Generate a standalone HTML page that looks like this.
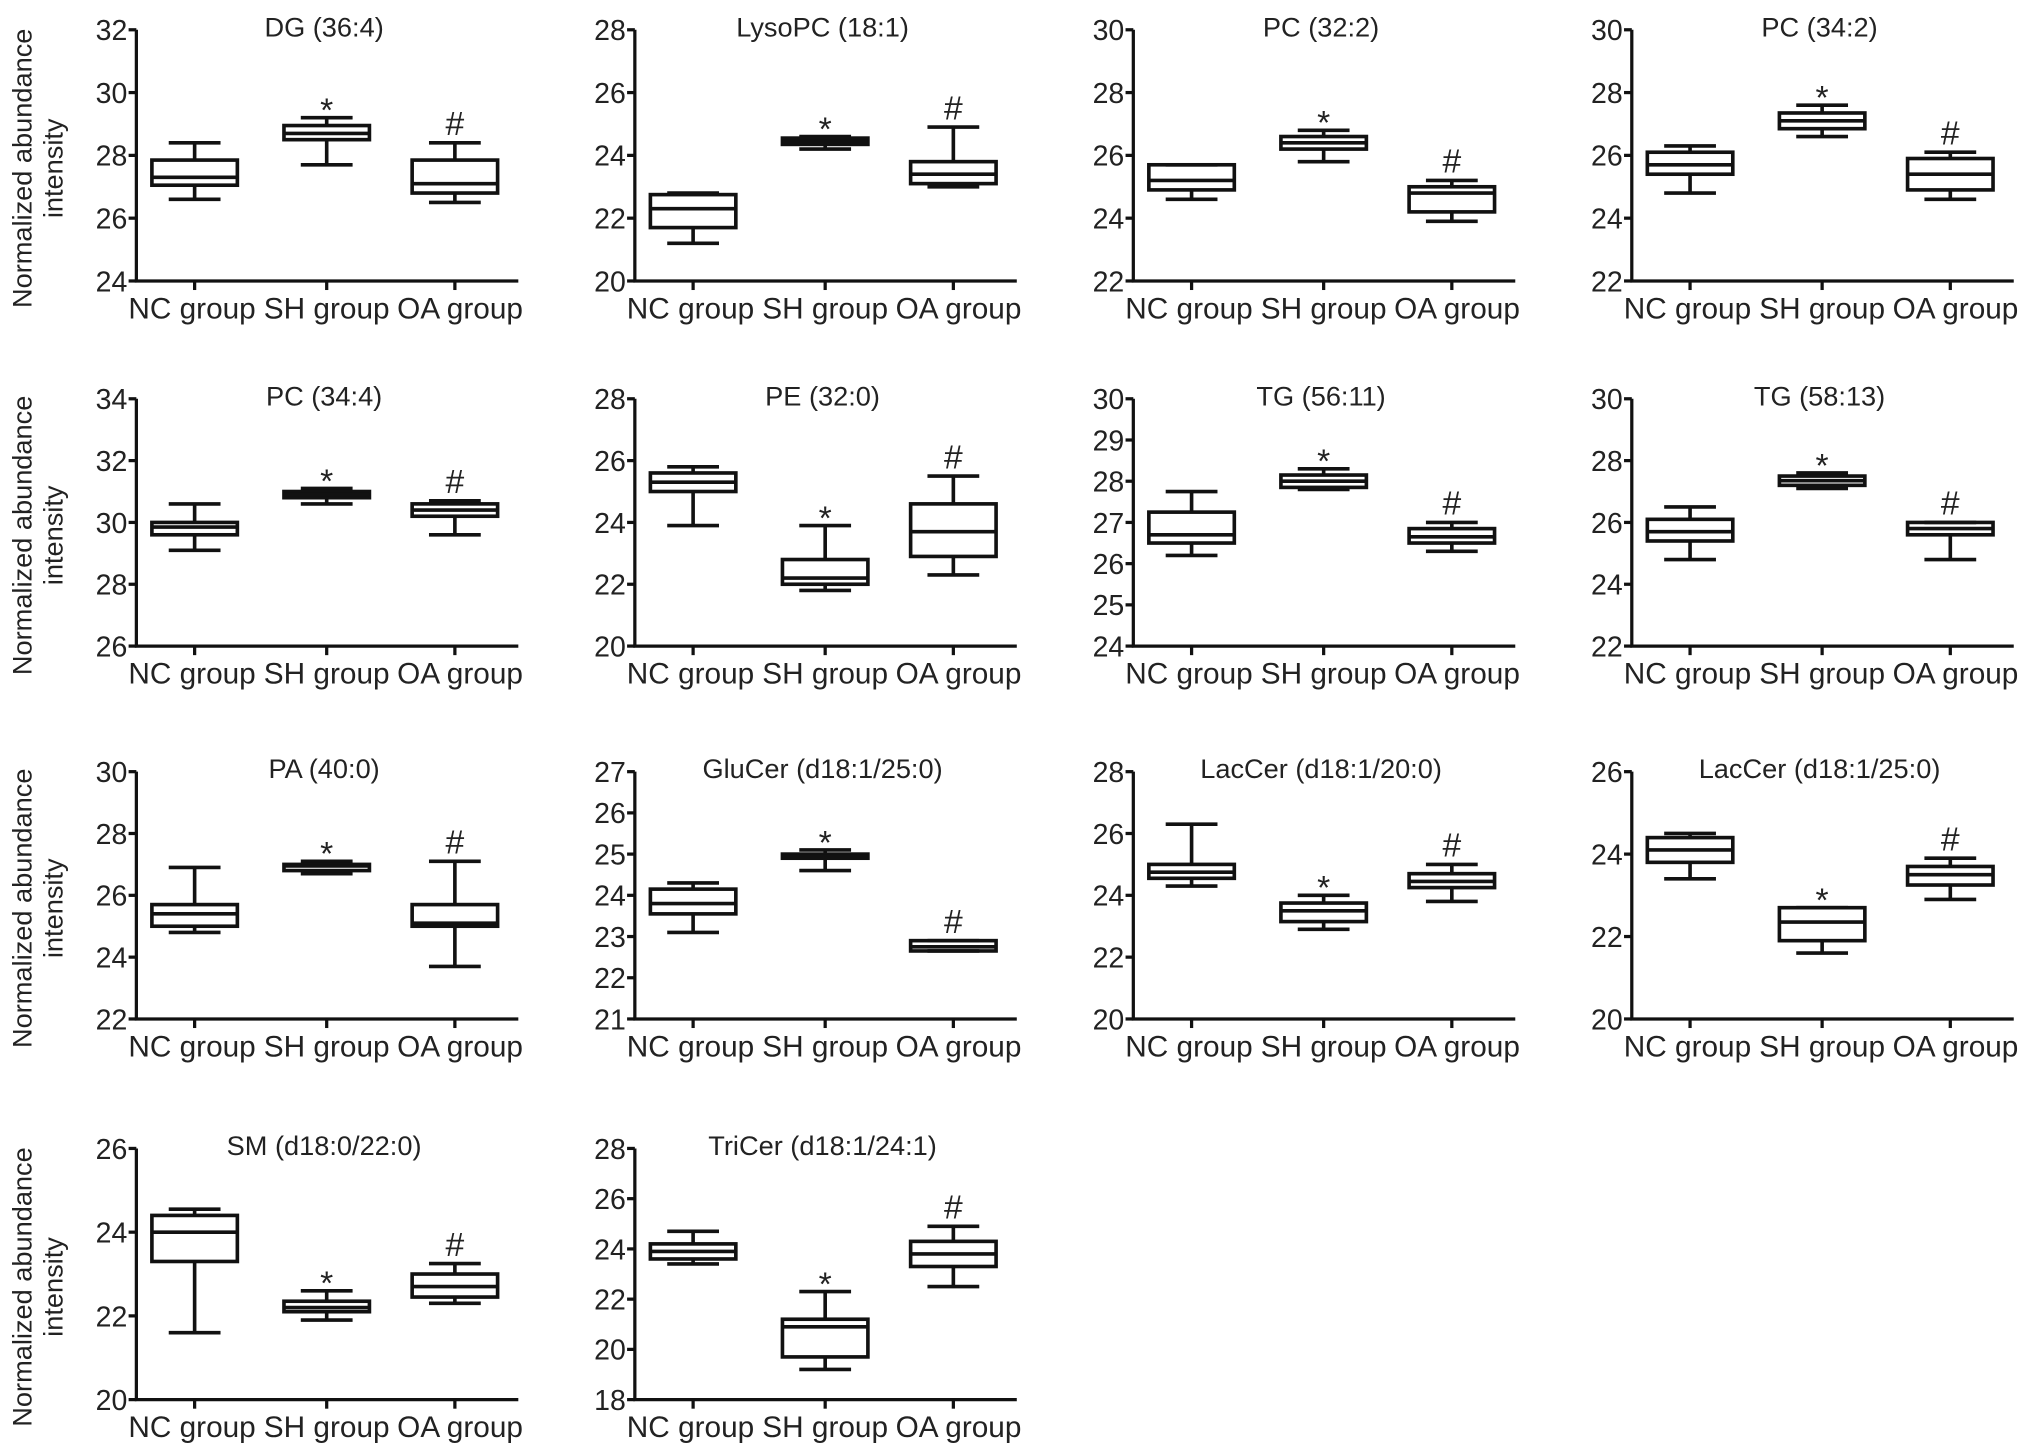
<!DOCTYPE html>
<html><head><meta charset="utf-8"><style>
html,body{margin:0;padding:0;background:#fff;}
svg{display:block;font-family:"Liberation Sans",Arial,sans-serif;}
</style></head><body>
<svg id="fig" width="2031" height="1454" viewBox="0 0 1568 1123" xmlns="http://www.w3.org/2000/svg"></svg>
<script>
const titles = ["DG (36:4)","LysoPC (18:1)","PC (32:2)","PC (34:2)","PC (34:4)","PE (32:0)","TG (56:11)","TG (58:13)","PA (40:0)","GluCer (d18:1/25:0)","LacCer (d18:1/20:0)","LacCer (d18:1/25:0)","SM (d18:0/22:0)","TriCer (d18:1/24:1)"];
const yMin = [24,20,22,22,26,20,24,22,22,21,20,20,20,18];
const yMax = [32,28,30,30,34,28,30,30,30,27,28,26,26,28];
const yStep = [2,2,2,2,2,2,1,2,2,1,2,2,2,2];
const groups = ["NC group","SH group","OA group"];
// each panel: [min, q1, median, q3, max] per group
const stats = [
 [[26.6,27.05,27.3,27.85,28.4],[27.7,28.5,28.7,28.95,29.2],[26.5,26.8,27.1,27.85,28.4]],
 [[21.2,21.7,22.3,22.75,22.8],[24.2,24.35,24.45,24.55,24.6],[23.0,23.1,23.4,23.8,24.9]],
 [[24.6,24.9,25.2,25.7,25.7],[25.8,26.2,26.4,26.6,26.8],[23.9,24.2,24.8,25.0,25.2]],
 [[24.8,25.4,25.7,26.1,26.3],[26.6,26.85,27.1,27.35,27.6],[24.6,24.9,25.4,25.9,26.1]],
 [[29.1,29.6,29.85,30.0,30.6],[30.6,30.8,30.9,31.0,31.1],[29.6,30.2,30.4,30.6,30.7]],
 [[23.9,25.0,25.3,25.6,25.8],[21.8,22.0,22.2,22.8,23.9],[22.3,22.9,23.7,24.6,25.5]],
 [[26.2,26.5,26.7,27.25,27.75],[27.8,27.85,28.0,28.15,28.3],[26.3,26.5,26.65,26.85,27.0]],
 [[24.8,25.4,25.7,26.1,26.5],[27.1,27.2,27.35,27.5,27.6],[24.8,25.6,25.8,26.0,26.0]],
 [[24.8,25.0,25.4,25.7,26.9],[26.7,26.8,26.95,27.0,27.1],[23.7,25.0,25.1,25.7,27.1]],
 [[23.1,23.55,23.8,24.15,24.3],[24.6,24.9,24.95,25.0,25.1],[22.65,22.65,22.75,22.9,22.9]],
 [[24.3,24.55,24.75,25.0,26.3],[22.9,23.15,23.5,23.75,24.0],[23.8,24.25,24.45,24.7,25.0]],
 [[23.4,23.8,24.1,24.4,24.5],[21.6,21.9,22.35,22.7,22.7],[22.9,23.25,23.5,23.7,23.9]],
 [[21.6,23.3,24.0,24.4,24.55],[21.9,22.1,22.2,22.35,22.6],[22.3,22.45,22.7,23.0,23.25]],
 [[23.4,23.6,23.9,24.2,24.7],[19.2,19.7,20.9,21.2,22.3],[22.5,23.3,23.8,24.3,24.9]]
];
const marks = ["","*","#"];

const NS="http://www.w3.org/2000/svg";
const svg=document.getElementById('fig');
function mk(tag,attrs,parent){const e=document.createElementNS(NS,tag);for(const k in attrs)e.setAttribute(k,attrs[k]);(parent||svg).appendChild(e);return e;}
const colX=[105,490,875,1260];
const rowTop=[23,308,596,887], rowBot=[217,499,787,1081];
const offs=[45,147,246];

titles.forEach((t,p)=>{
  const c=p%4,r=Math.floor(p/4);
  const ax=colX[c],top=rowTop[r],bot=rowBot[r];
  const g=mk('g',{});
  
  
  const y=v=>bot-(v-yMin[p])/(yMax[p]-yMin[p])*(bot-top);
  const x=i=>ax+offs[i];
  if(c===0){
    const yl=mk('text',{x:0,y:0,'font-size':21,'text-anchor':'middle',transform:`translate(24,${(top+bot)/2+10}) rotate(-90)`,fill:'#222'},g);
    
    
    yl.textContent='Normalized abundance';
    const yl2=mk('text',{x:0,y:0,'font-size':21,'text-anchor':'middle',transform:`translate(48,${(top+bot)/2+10}) rotate(-90)`,fill:'#222'},g);
    
    
    yl2.textContent='intensity';
  }
  const tt=mk('text',{x:ax+145,y:top+5,'font-size':21,'text-anchor':'middle',fill:'#222'},g);
  
  
  tt.textContent=t;
  const yaxis=mk('path',{d:`M${ax} ${top}V${bot}H${ax+295}`,stroke:'#111','stroke-width':2.5,fill:'none'},g);
  
  
  for(let v=yMin[p];v<=yMax[p]+1e-9;v+=yStep[p]){
    mk('line',{x1:ax-6,x2:ax,y1:y(v),y2:y(v),stroke:'#111','stroke-width':2.5},g);
    const tl=mk('text',{x:ax-7,y:y(v)+8,'font-size':22,'text-anchor':'end',fill:'#222'},g);
    
    
    tl.textContent=v;
  }
  groups.forEach((gn,i)=>{
    mk('line',{x1:x(i),x2:x(i),y1:bot,y2:bot+7,stroke:'#111','stroke-width':2.5},g);
    const xl=mk('text',{x:x(i)+(i===0?-2:i===2?4:0),y:bot+29,'font-size':23,'text-anchor':'middle',fill:'#222'},g);
    
    
    xl.textContent=gn;
    const s=stats[p][i];
    const bg=mk('g',{stroke:'#111','stroke-width':2.8,fill:'none'},g);
    
    
    const bw=33,cw=20;
    mk('line',{x1:x(i),x2:x(i),y1:y(s[0]),y2:y(s[1])},bg);
    mk('line',{x1:x(i),x2:x(i),y1:y(s[3]),y2:y(s[4])},bg);
    mk('line',{x1:x(i)-cw,x2:x(i)+cw,y1:y(s[0]),y2:y(s[0])},bg);
    mk('line',{x1:x(i)-cw,x2:x(i)+cw,y1:y(s[4]),y2:y(s[4])},bg);
    mk('rect',{x:x(i)-bw,y:y(s[3]),width:2*bw,height:Math.max(1,y(s[1])-y(s[3]))},bg);
    mk('line',{x1:x(i)-bw,x2:x(i)+bw,y1:y(s[2]),y2:y(s[2])},bg);
    if(marks[i]){
      const m=mk('text',{x:x(i),y:y(s[4])-(i===1?-3:6),'font-size':26,'text-anchor':'middle',fill:'#222'},g);
      
      
      m.textContent=marks[i];
    }
  });
});
</script>
</body></html>
